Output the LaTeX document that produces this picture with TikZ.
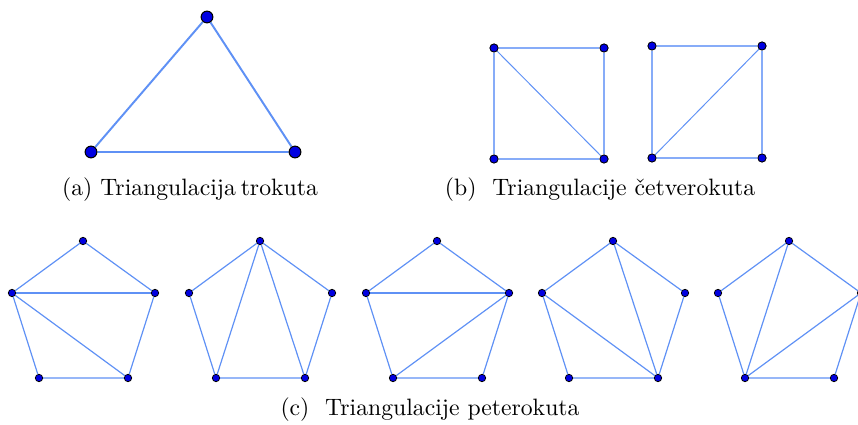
\documentclass[tikz,border=0pt]{standalone}
\usetikzlibrary{backgrounds}
\definecolor{edgeblue}{RGB}{95,145,245}
\definecolor{dotblue}{RGB}{0,0,225}
\tikzset{
  bigdot/.style={circle,draw=black,fill=dotblue,line width=0.5pt,minimum size=5.4pt,inner sep=0pt},
  meddot/.style={circle,draw=black,fill=dotblue,line width=0.4pt,minimum size=3.8pt,inner sep=0pt},
  smalldot/.style={circle,draw=black,fill=dotblue,line width=0.35pt,minimum size=3.4pt,inner sep=0pt},
  thickedge/.style={draw=edgeblue,line width=0.9pt},
  sqedge/.style={draw=edgeblue!75,line width=0.9pt},
  diagedge/.style={draw=edgeblue,line width=0.45pt},
  pentedge/.style={draw=edgeblue,line width=0.55pt},
  caption/.style={font=\fontsize{10.9}{13}\selectfont,inner sep=0pt}
}
\begin{document}
\begin{tikzpicture}[x=0.46pt,y=-0.46pt]
\useasboundingbox (0,0) rectangle (858,425);
% (a) triangle
\node[bigdot] (ta) at (207,17) {};
\node[bigdot] (tb) at (91,152) {};
\node[bigdot] (tc) at (295,152) {};
\begin{scope}[on background layer]
\draw[thickedge] (ta) -- (tb) -- (tc) -- (ta);
\end{scope}
\node[caption] (capa) at (190,190) {(a) Triangulacija\hspace{0.2em}trokuta};
% (b) squares
\node[meddot] (s1a) at (494,48) {};
\node[meddot] (s1b) at (604,48) {};
\node[meddot] (s1c) at (604,159) {};
\node[meddot] (s1d) at (494,159) {};
\node[meddot] (s2a) at (652,46) {};
\node[meddot] (s2b) at (762,46) {};
\node[meddot] (s2c) at (762,158) {};
\node[meddot] (s2d) at (652,158) {};
\begin{scope}[on background layer]
\draw[sqedge] (s1a) -- (s1b) -- (s1c) -- (s1d) -- (s1a);
\draw[diagedge] (s1a) -- (s1c);
\draw[sqedge] (s2a) -- (s2b) -- (s2c) -- (s2d) -- (s2a);
\draw[diagedge] (s2d) -- (s2b);
\end{scope}
\node[caption] (capb) at (600,190) {(b)\ \ Triangulacije četverokuta};
% (c) pentagons
\foreach \i/\dx in {1/0,2/177,3/354,4/530,5/706} {
  \node[smalldot] (p\i t) at (83+\dx,241) {};
  \node[smalldot] (p\i l) at (12+\dx,293) {};
  \node[smalldot] (p\i r) at (155+\dx,293) {};
  \node[smalldot] (p\i bl) at (39+\dx,378) {};
  \node[smalldot] (p\i br) at (128+\dx,378) {};
  \begin{scope}[on background layer]
  \draw[pentedge] (p\i t) -- (p\i r) -- (p\i br) -- (p\i bl) -- (p\i l) -- (p\i t);
  \end{scope}
}
\begin{scope}[on background layer]
\draw[pentedge] (p1l) -- (p1r);
\draw[pentedge] (p1l) -- (p1br);
\draw[pentedge] (p2t) -- (p2bl);
\draw[pentedge] (p2t) -- (p2br);
\draw[pentedge] (p3l) -- (p3r);
\draw[pentedge] (p3r) -- (p3bl);
\draw[pentedge] (p4l) -- (p4br);
\draw[pentedge] (p4t) -- (p4br);
\draw[pentedge] (p5t) -- (p5bl);
\draw[pentedge] (p5r) -- (p5bl);
\end{scope}
\node[caption] (capc) at (430,410) {(c)\ \ Triangulacije peterokuta};
\end{tikzpicture}
\end{document}
